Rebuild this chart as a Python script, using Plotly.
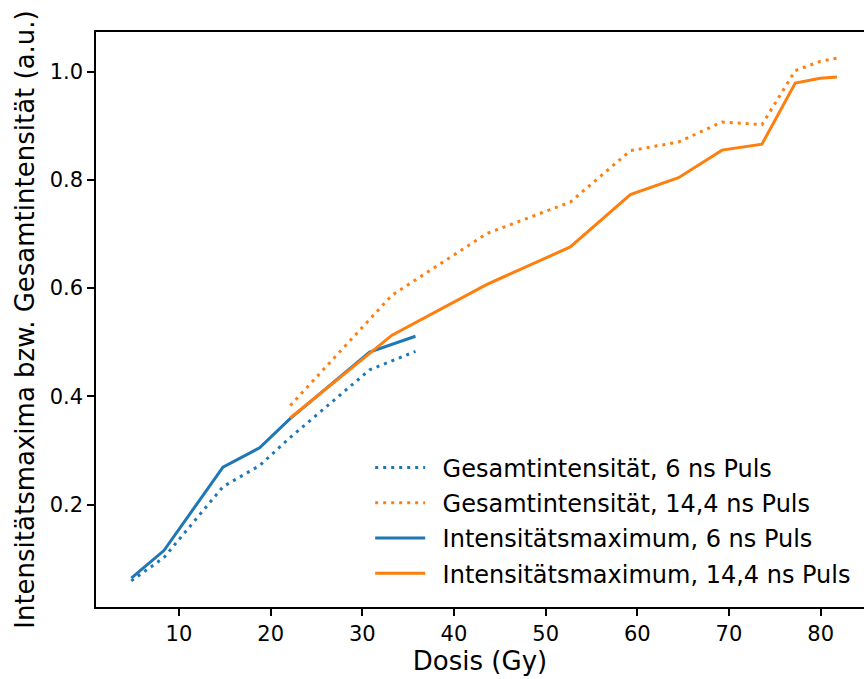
import plotly.graph_objects as go

# Data
dose_6ns = [4.8, 8.36, 14.8, 18.8, 22.07, 30.8, 35.8]
gesamt_6ns = [0.059, 0.102, 0.233, 0.272, 0.323, 0.449, 0.483]
maximum_6ns = [0.064, 0.115, 0.269, 0.305, 0.358, 0.482, 0.511]

dose_14ns = [22.14, 33.24, 43.6, 52.69, 59.24, 64.5, 69.24, 73.6, 77.23, 79.96, 81.78]
gesamt_14ns = [0.383, 0.587, 0.701, 0.759, 0.854, 0.870, 0.907, 0.902, 1.002, 1.019, 1.025]
maximum_14ns = [0.360, 0.513, 0.607, 0.676, 0.773, 0.804, 0.855, 0.866, 0.979, 0.988, 0.990]

x_ticks = [10, 20, 30, 40, 50, 60, 70, 80]
y_ticks = [0.2, 0.4, 0.6, 0.8, 1.0]
y_tick_labels = ["0.2", "0.4", "0.6", "0.8", "1.0"]

BLUE = "#1f77b4"
ORANGE = "#ff7f0e"
FONT = "DejaVu Sans"
PAD = "\u00a0\u2009"

fig = go.Figure()
fig.add_trace(go.Scatter(x=dose_6ns, y=gesamt_6ns, mode="lines",
                         name=PAD + "Gesamtintensität, 6 ns Puls", legendgroup="a",
                         line=dict(color=BLUE, width=3, dash="3px,5px")))
fig.add_trace(go.Scatter(x=dose_14ns, y=gesamt_14ns, mode="lines",
                         name=PAD + "Gesamtintensität, 14,4 ns Puls", legendgroup="b",
                         line=dict(color=ORANGE, width=3, dash="3px,5px")))
fig.add_trace(go.Scatter(x=dose_6ns, y=maximum_6ns, mode="lines",
                         name=PAD + "Intensitätsmaximum, 6 ns Puls", legendgroup="c",
                         line=dict(color=BLUE, width=3)))
fig.add_trace(go.Scatter(x=dose_14ns, y=maximum_14ns, mode="lines",
                         name=PAD + "Intensitätsmaximum, 14,4 ns Puls", legendgroup="d",
                         line=dict(color=ORANGE, width=3)))

fig.update_layout(
    width=864, height=679,
    margin=dict(l=96, r=0, t=32, b=72),
    paper_bgcolor="white", plot_bgcolor="white",
    font=dict(family=FONT, size=21, color="black"),
    showlegend=True,
    legend=dict(x=0.357, y=0.02, xanchor="left", yanchor="bottom",
                font=dict(family=FONT, size=24, color="black"),
                bgcolor="rgba(255,255,255,0)", borderwidth=0,
                itemwidth=50, tracegroupgap=1, traceorder="grouped"),
    xaxis=dict(range=[0.95, 84.73], tickvals=x_ticks,
               showgrid=False, zeroline=False,
               showline=True, linecolor="black", linewidth=1.5, mirror=True,
               ticks="outside", ticklen=7, tickwidth=1.5, tickcolor="black",
               tickfont=dict(family=FONT, size=21, color="black"),
               title=dict(text="Dosis (Gy)", font=dict(family=FONT, size=26, color="black"),
                          standoff=6)),
    yaxis=dict(range=[0.0107, 1.0733], tickvals=y_ticks, ticktext=y_tick_labels,
               showgrid=False, zeroline=False,
               showline=True, linecolor="black", linewidth=1.5, mirror=False,
               ticks="outside", ticklen=7, tickwidth=1.5, tickcolor="black",
               tickfont=dict(family=FONT, size=21, color="black"),
               title=dict(text="Intensitätsmaxima bzw. Gesamtintensität (a.u.)",
                          font=dict(family=FONT, size=26, color="black"),
                          standoff=8)),
)

fig.write_html("out.html")
